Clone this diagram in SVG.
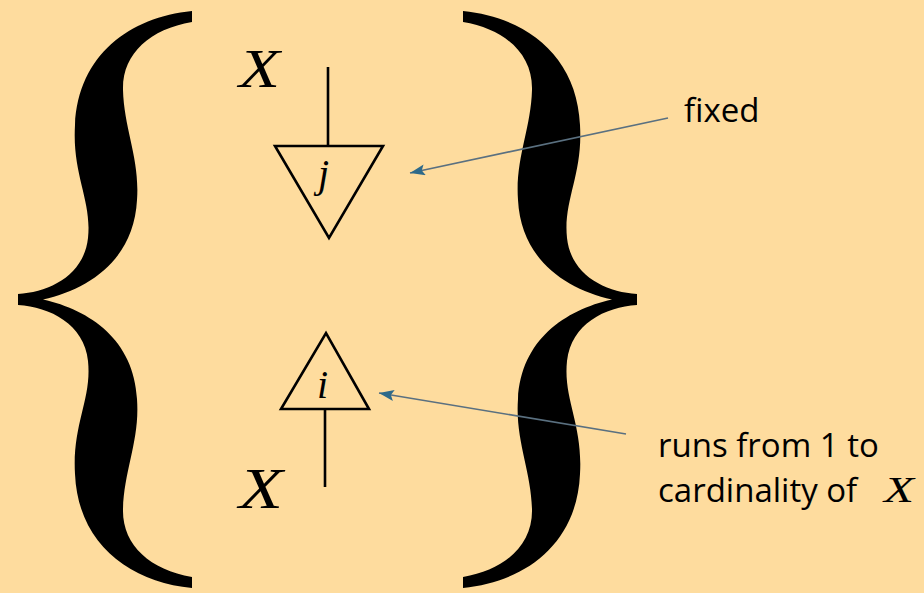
<svg xmlns="http://www.w3.org/2000/svg" width="924" height="593" viewBox="0 0 924 593">
<style>
.math{font-family:"Liberation Serif","DejaVu Serif",serif;font-style:italic;fill:#000}
.lbl{font-family:"Open Sans","Noto Sans",sans-serif;font-size:33px;fill:#000}
.edge{stroke:#000;stroke-width:2.6;fill:none;stroke-linejoin:miter}
.ptr{stroke:#5a7080;stroke-width:1.6;fill:none}
</style>
<defs>
<path id="brace" d="M192,11 C130,17 78,55 75,125 C72,175 92,200 88,238 C84,275 50,292 18,294 L18,305 C50,307 84,324 88,361 C92,399 72,424 75,474 C78,544 130,582 192,588 L192,577 C150,570 122,545 123,509 C124,470 140,440 137,399 C134,340 90,310 43,299.5 C90,289 134,259 137,200 C140,159 124,129 123,90 C122,54 150,29 192,22 Z" fill="#000"/>
<marker id="ah" viewBox="0 0 15 11" refX="15" refY="5.5" markerWidth="15" markerHeight="11" markerUnits="userSpaceOnUse" orient="auto">
<path d="M0,0 L15,5.5 L0,11 L3,5.5 Z" fill="#2e6a8a"/>
</marker>
</defs>
<rect width="924" height="593" fill="#fedc9e"/>
<g id="brace-left"><use href="#brace"/></g>
<g id="brace-right"><use href="#brace" transform="translate(655,0) scale(-1,1)"/></g>
<g id="node-j">
<polygon class="edge" points="275,146 383,146 329,238"/>
<text class="math" x="318" y="187" font-size="40">j</text>
</g>
<g id="node-i">
<polygon class="edge" points="281,409 369,409 326,333"/>
<text class="math" x="317" y="398" font-size="40">i</text>
</g>
<g id="label-x-top"><text class="math" x="239" y="87" font-size="54" textLength="41" lengthAdjust="spacingAndGlyphs">X</text></g>
<g id="label-x-bottom"><text class="math" x="239" y="508" font-size="56" textLength="44" lengthAdjust="spacingAndGlyphs">X</text></g>
<g id="label-fixed"><text class="lbl" x="684" y="122">fixed</text></g>
<g id="label-runs">
<text class="lbl" x="658" y="457">runs from 1 to</text>
<text class="lbl" x="658" y="502">cardinality of</text>
<text class="math" x="884" y="502" font-size="36" textLength="30" lengthAdjust="spacingAndGlyphs">X</text>
</g>
<g id="connectors">
<line class="edge" x1="328" y1="67" x2="328" y2="146"/>
<line class="edge" x1="325" y1="409" x2="325" y2="487"/>
<line class="ptr" x1="668" y1="118" x2="410" y2="173" marker-end="url(#ah)"/>
<line class="ptr" x1="626" y1="434" x2="379" y2="393" marker-end="url(#ah)"/>
</g>
</svg>
